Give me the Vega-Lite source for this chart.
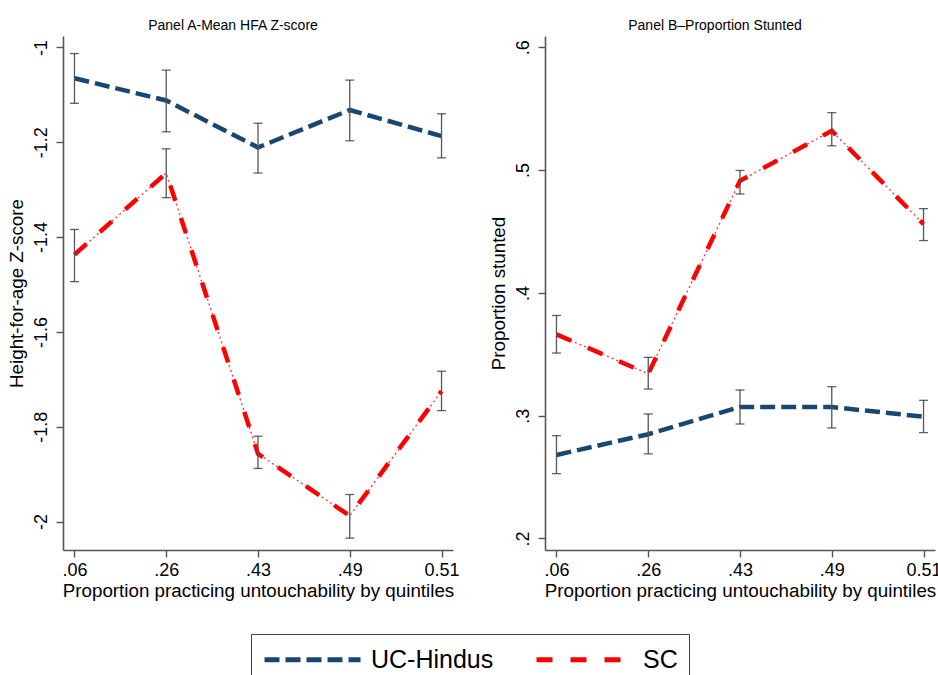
{
  "$schema": "https://vega.github.io/schema/vega-lite/v6.json",
  "background": "white",
  "padding": {"left": 7, "top": 19, "right": 0, "bottom": 0},
  "config": {
    "view": {"stroke": null},
    "font": "Liberation Sans",
    "concat": {"spacing": 29},
    "axis": {
      "grid": false,
      "domainColor": "#555",
      "domainWidth": 1.6,
      "tickColor": "#555",
      "tickSize": 7,
      "tickWidth": 1.4,
      "labelFont": "Liberation Sans",
      "titleFont": "Liberation Sans",
      "labelFontSize": 18,
      "titleFontSize": 18.8,
      "titleFontWeight": "normal",
      "labelColor": "#000",
      "titleColor": "#000"
    },
    "title": {"font": "Liberation Sans", "fontSize": 14, "fontWeight": "normal", "color": "#000"}
  },
  "datasets": {
    "d": [
      {"panel": "A", "group": "UC-Hindus", "q": ".06", "m": -1.065, "lo": -1.118, "hi": -1.013},
      {"panel": "A", "group": "UC-Hindus", "q": ".26", "m": -1.112, "lo": -1.178, "hi": -1.048},
      {"panel": "A", "group": "UC-Hindus", "q": ".43", "m": -1.211, "lo": -1.265, "hi": -1.160},
      {"panel": "A", "group": "UC-Hindus", "q": ".49", "m": -1.132, "lo": -1.197, "hi": -1.069},
      {"panel": "A", "group": "UC-Hindus", "q": "0.51", "m": -1.187, "lo": -1.233, "hi": -1.140},
      {"panel": "A", "group": "SC", "q": ".06", "m": -1.437, "lo": -1.494, "hi": -1.384},
      {"panel": "A", "group": "SC", "q": ".26", "m": -1.265, "lo": -1.317, "hi": -1.214},
      {"panel": "A", "group": "SC", "q": ".43", "m": -1.857, "lo": -1.888, "hi": -1.820},
      {"panel": "A", "group": "SC", "q": ".49", "m": -1.988, "lo": -2.035, "hi": -1.943},
      {"panel": "A", "group": "SC", "q": "0.51", "m": -1.725, "lo": -1.766, "hi": -1.683},
      {"panel": "B", "group": "UC-Hindus", "q": ".06", "m": 0.268, "lo": 0.2528, "hi": 0.2837},
      {"panel": "B", "group": "UC-Hindus", "q": ".26", "m": 0.2849, "lo": 0.2689, "hi": 0.3014},
      {"panel": "B", "group": "UC-Hindus", "q": ".43", "m": 0.3071, "lo": 0.2932, "hi": 0.3209},
      {"panel": "B", "group": "UC-Hindus", "q": ".49", "m": 0.307, "lo": 0.290, "hi": 0.3236},
      {"panel": "B", "group": "UC-Hindus", "q": "0.51", "m": 0.2992, "lo": 0.2862, "hi": 0.3125},
      {"panel": "B", "group": "SC", "q": ".06", "m": 0.3662, "lo": 0.351, "hi": 0.3816},
      {"panel": "B", "group": "SC", "q": ".26", "m": 0.3341, "lo": 0.3217, "hi": 0.3475},
      {"panel": "B", "group": "SC", "q": ".43", "m": 0.4913, "lo": 0.4805, "hi": 0.4997},
      {"panel": "B", "group": "SC", "q": ".49", "m": 0.532, "lo": 0.5198, "hi": 0.5468},
      {"panel": "B", "group": "SC", "q": "0.51", "m": 0.456, "lo": 0.4426, "hi": 0.4686}
    ]
  },
  "hconcat": [
    {
      "width": 390,
      "height": 514,
      "title": {"text": "Panel A-Mean HFA Z-score", "frame": "bounds", "anchor": "middle", "offset": 3},
      "data": {"name": "d"},
      "transform": [{"filter": "datum.panel == 'A'"}],
      "encoding": {
        "x": {
          "field": "q", "type": "ordinal",
          "sort": [".06", ".26", ".43", ".49", "0.51"],
          "scale": {"type": "point", "padding": 0.125},
          "axis": {"title": "Proportion practicing untouchability by quintiles", "labelAngle": 0, "labelPadding": 4, "titlePadding": 2}
        }
      },
      "layer": [
        {
          "transform": [{"filter": "datum.group == 'SC'"}],
          "mark": {"type": "line", "color": "#ff0000", "strokeWidth": 1.3, "strokeDash": [2, 3], "opacity": 0.8},
          "encoding": {
            "y": {
              "field": "m", "type": "quantitative", "title": "Height-for-age Z-score",
              "scale": {"domain": [-2.06, -0.976], "nice": false, "zero": false},
              "axis": {"values": [-1, -1.2, -1.4, -1.6, -1.8, -2], "labelAngle": -90, "labelExpr": "replace(format(datum.value, '~g'), '\u2212', '-')", "labelPadding": 6, "titlePadding": 6}
            }
          }
        },
        {
          "mark": {"type": "line", "strokeWidth": 4.5, "strokeCap": "butt"},
          "encoding": {
            "y": {"field": "m", "type": "quantitative", "title": "Height-for-age Z-score"},
            "color": {
              "field": "group", "type": "nominal",
              "scale": {"domain": ["UC-Hindus", "SC"], "range": ["#1a476f", "#ff0000"]},
              "legend": {"orient": "none", "legendX": 188, "legendY": 598, "direction": "horizontal", "title": null, "strokeColor": "#444", "padding": 11, "symbolType": "M-1,0H7", "symbolSize": 576, "symbolStrokeWidth": 5, "symbolOffset": 0, "labelFontSize": 25, "labelOffset": 80, "columnPadding": 32, "labelColor": "#000"}
            },
            "strokeDash": {
              "field": "group", "type": "nominal",
              "scale": {"domain": ["UC-Hindus", "SC"], "range": [[15, 6], [16, 18]]},
              "legend": {"orient": "none", "legendX": 188, "legendY": 598, "direction": "horizontal", "title": null, "strokeColor": "#444", "padding": 11, "symbolType": "M-1,0H7", "symbolSize": 576, "symbolStrokeWidth": 5, "symbolOffset": 0, "labelFontSize": 25, "labelOffset": 80, "columnPadding": 32, "labelColor": "#000"}
            }
          }
        },
        {
          "mark": {"type": "rule", "color": "#555", "strokeWidth": 1.3},
          "encoding": {
            "y": {"field": "lo", "type": "quantitative", "title": "Height-for-age Z-score"},
            "y2": {"field": "hi"}
          }
        },
        {
          "mark": {"type": "tick", "color": "#222", "size": 9, "thickness": 1.3},
          "encoding": {"y": {"field": "lo", "type": "quantitative", "title": "Height-for-age Z-score"}}
        },
        {
          "mark": {"type": "tick", "color": "#222", "size": 9, "thickness": 1.3},
          "encoding": {"y": {"field": "hi", "type": "quantitative", "title": "Height-for-age Z-score"}}
        }
      ]
    },
    {
      "width": 390,
      "height": 514,
      "title": {"text": "Panel B\u2013Proportion Stunted", "frame": "bounds", "anchor": "middle", "offset": 3},
      "data": {"name": "d"},
      "transform": [{"filter": "datum.panel == 'B'"}],
      "encoding": {
        "x": {
          "field": "q", "type": "ordinal",
          "sort": [".06", ".26", ".43", ".49", "0.51"],
          "scale": {"type": "point", "padding": 0.125},
          "axis": {"title": "Proportion practicing untouchability by quintiles", "labelAngle": 0, "labelPadding": 4, "titlePadding": 2}
        }
      },
      "layer": [
        {
          "transform": [{"filter": "datum.group == 'SC'"}],
          "mark": {"type": "line", "color": "#ff0000", "strokeWidth": 1.3, "strokeDash": [2, 3], "opacity": 0.8},
          "encoding": {
            "y": {
              "field": "m", "type": "quantitative", "title": "Proportion stunted",
              "scale": {"domain": [0.1906, 0.6092], "nice": false, "zero": false},
              "axis": {"values": [0.2, 0.3, 0.4, 0.5, 0.6], "labelAngle": -90, "labelExpr": "replace(format(datum.value, '.1f'), '0.', '.')", "labelPadding": 6, "titlePadding": 6}
            }
          }
        },
        {
          "mark": {"type": "line", "strokeWidth": 4.5, "strokeCap": "butt"},
          "encoding": {
            "y": {"field": "m", "type": "quantitative", "title": "Proportion stunted"},
            "color": {"field": "group", "type": "nominal"},
            "strokeDash": {"field": "group", "type": "nominal"}
          }
        },
        {
          "mark": {"type": "rule", "color": "#555", "strokeWidth": 1.3},
          "encoding": {
            "y": {"field": "lo", "type": "quantitative", "title": "Proportion stunted"},
            "y2": {"field": "hi"}
          }
        },
        {
          "mark": {"type": "tick", "color": "#222", "size": 9, "thickness": 1.3},
          "encoding": {"y": {"field": "lo", "type": "quantitative", "title": "Proportion stunted"}}
        },
        {
          "mark": {"type": "tick", "color": "#222", "size": 9, "thickness": 1.3},
          "encoding": {"y": {"field": "hi", "type": "quantitative", "title": "Proportion stunted"}}
        }
      ]
    }
  ]
}
